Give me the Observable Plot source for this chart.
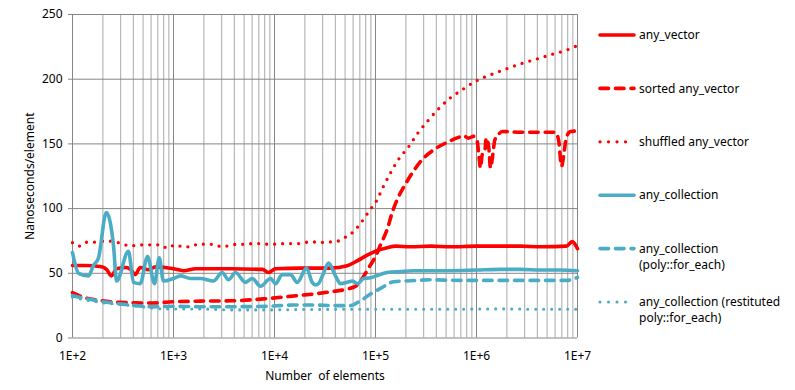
<!DOCTYPE html>
<html>
<head>
<meta charset="utf-8">
<script src="https://cdn.jsdelivr.net/npm/d3@7"></script>
<script src="https://cdn.jsdelivr.net/npm/@observablehq/plot@0.6"></script>
<style>
  html, body { margin: 0; padding: 0; background: #fff; }
  #chart { width: 795px; height: 390px; position: relative; }
  svg text { white-space: pre; }
</style>
</head>
<body>
<div id="chart"></div>
<script>
// ---------- data ----------
const xTicks = [1e2, 1e3, 1e4, 1e5, 1e6, 1e7];
const xTickLabels = ["1E+2", "1E+3", "1E+4", "1E+5", "1E+6", "1E+7"];
const yTicks = [0, 50, 100, 150, 200, 250];
const xLabel = "Number  of elements";
const yLabel = "Nanoseconds/element";

const seriesNames = [
  "any_vector",
  "sorted any_vector",
  "shuffled any_vector",
  "any_collection",
  "any_collection (poly::for_each)",
  "any_collection (restituted poly::for_each)"
];
const legendLines = [
  ["any_vector"],
  ["sorted any_vector"],
  ["shuffled any_vector"],
  ["any_collection"],
  ["any_collection", "(poly::for_each)"],
  ["any_collection (restituted", "poly::for_each)"]
];

const anyVectorN = [100, 134, 194, 217, 243, 273, 342, 375, 418, 468, 566, 663, 833, 1000, 1256, 1651, 3668, 7606, 8722, 10230, 18090, 35850, 52460, 65900, 82770, 101600, 130600, 157800, 222100, 350500, 552900, 1e6, 1.728e6, 2.727e6, 4.302e6, 7.782e6, 8.861e6, 1e7];
const anyVectorNs = [56, 56, 55, 53, 48, 53.5, 54.5, 53, 49, 54.5, 52.7, 55, 54.5, 53.5, 52, 53.5, 53.5, 53, 50.6, 53.5, 54, 54, 55.8, 59.6, 64, 67.3, 69.8, 71, 70.5, 71, 70.5, 71, 71, 71, 70.5, 71, 74.5, 69];

const sortedN = [100, 134, 189, 299, 592, 1000, 1850, 3928, 8525, 18090, 24330, 38390, 52460, 63390, 71050, 79620, 89230, 101600, 112100, 130600, 146400, 164000, 198200, 230900, 290000, 377800, 493300, 663400, 743500, 833200, 934000, 1.016e6, 1.054e6, 1.095e6, 1.139e6, 1.208e6, 1.247e6, 1.324e6, 1.376e6, 1.45e6, 1.518e6, 1.603e6, 1.797e6, 2.727e6, 4.302e6, 6.056e6, 6.53e6, 6.943e6, 7.317e6, 7.728e6, 8.525e6, 1e7];
const sortedNs = [35, 31, 29, 27.5, 27, 28, 28.5, 28.8, 30.5, 33, 34, 36, 37.8, 40, 44, 50, 56.5, 64, 72, 84, 97, 107, 119, 127.5, 137.8, 145.5, 150.6, 155, 156.3, 154.5, 155.8, 152, 141.7, 131.4, 141.7, 144, 154.5, 146.8, 131.4, 141.7, 153, 155.8, 159.6, 159, 159, 159, 152, 132.7, 141.7, 154.5, 159.6, 160];

const shuffledN = [100, 117, 138, 161, 217, 306, 373, 430, 525, 739, 872, 1039, 1256, 1497, 1768, 2075, 2489, 3035, 3668, 4273, 5163, 6196, 7268, 8783, 10630, 12850, 15530, 18090, 21710, 26470, 30770, 37260, 43020, 52460, 59200, 67870, 79620, 91290, 102300, 119200, 140800, 170100, 213600, 262300, 329500, 417700, 544000, 721800, 1e6, 1.408e6, 1.982e6, 2.771e6, 3.926e6, 5.491e6, 7.782e6, 1e7];
const shuffledNs = [73.7, 71, 74, 74, 75, 73, 71, 71.7, 72, 72, 69.4, 72, 70.4, 70.6, 72.8, 72.4, 72.4, 70.4, 71.7, 72.4, 72.4, 73, 73, 72.4, 72.6, 73, 73, 73, 74.2, 74.2, 73.8, 74.4, 75, 78.8, 81.5, 86.5, 94, 100.5, 106, 116.8, 127.6, 138.3, 148, 158.3, 167.8, 176.8, 185.2, 191.8, 198.8, 203.7, 208, 212, 215.5, 219, 222.5, 226];

const collectionN = [100, 115, 144, 161, 181, 216, 255, 273, 358, 402, 468, 553, 649, 722, 796, 1000, 1173, 1473, 1850, 2489, 3035, 3505, 4111, 5163, 6014, 7268, 9129, 10230, 11920, 14400, 16790, 20750, 23620, 25460, 27270, 30560, 34250, 40180, 45030, 52460, 59200, 66340, 76060, 89230, 101600, 130600, 176800, 237800, 350500, 552900, 1e6, 1.728e6, 2.727e6, 4.302e6, 6.787e6, 1e7];
const collectionNs = [66, 50, 48, 56, 62, 97, 71, 44, 67, 43, 42, 63, 42, 62, 44, 46, 48, 46, 46, 44, 50.6, 45, 50.6, 43, 46, 40, 46, 42, 49, 49, 43, 54, 43, 41, 42, 50, 58, 48, 42, 43, 44, 42, 46, 46.5, 48, 50.6, 51.4, 52, 52, 52, 52.5, 53, 53, 52.5, 52.5, 52];

const polyN = [100, 189, 348, 592, 1000, 1850, 3928, 8525, 15430, 24330, 38390, 56560, 71050, 89230, 112100, 151800, 222100, 350500, 694300, 1.728e6, 4.302e6, 7.782e6, 1e7];
const polyNs = [32.7, 28.3, 25.8, 24.2, 24.5, 24.2, 24.2, 24.5, 25.5, 25.5, 25, 25, 28.8, 34, 38.3, 43.5, 44.2, 45, 44.5, 44.5, 44.5, 44.5, 46.8];

const restitutedN = [100, 189, 402, 872, 1850, 3928, 8525, 18090, 102300, 552900, 1.728e6, 4.302e6, 1e7];
const restitutedNs = [31.4, 27.5, 25, 22.4, 22.4, 21.7, 21.7, 22, 22.2, 22.2, 22.5, 22.2, 22.2];

// ---------- styles ----------
const RED = "#ff0000", BLUE = "#4bacc6";
const styles = [
  {stroke: RED, width: 3.6, dash: null},
  {stroke: RED, width: 3.6, dash: "8.5 7"},
  {stroke: RED, width: 3.3, dash: "0 8"},
  {stroke: BLUE, width: 3.6, dash: null},
  {stroke: BLUE, width: 3.6, dash: "8.5 7"},
  {stroke: BLUE, width: 3.1, dash: "0 8"}
];
const seriesData = [
  [anyVectorN, anyVectorNs],
  [sortedN, sortedNs],
  [shuffledN, shuffledNs],
  [collectionN, collectionNs],
  [polyN, polyNs],
  [restitutedN, restitutedNs]
];
const rowsFor = (i) => seriesData[i][0].map((n, j) => ({series: seriesNames[i], n, v: seriesData[i][1][j]}));

const minorTicks = d3.scaleLog().domain([1e2, 1e7]).ticks().filter(t => !xTicks.includes(t));

const W = 795, H = 390;
const FONT = "Noto Sans";

const lineMarks = seriesNames.map((name, i) => Plot.line(rowsFor(i), {
  x: "n", y: "v",
  stroke: styles[i].stroke,
  strokeWidth: styles[i].width,
  strokeDasharray: styles[i].dash,
  strokeLinecap: "round",
  strokeLinejoin: "round",
  curve: "monotone-x"
}));

const chart = Plot.plot({
  width: W,
  height: H,
  marginLeft: 72,
  marginRight: 218,
  marginTop: 14,
  marginBottom: 52.5,
  style: {fontFamily: FONT, fontSize: "12px", color: "#000", background: "#fff"},
  x: {type: "log", domain: [1e2, 1e7]},
  y: {domain: [0, 250]},
  marks: [
    Plot.ruleX(minorTicks, {stroke: "#a9a9a9", strokeWidth: 1}),
    Plot.ruleX(xTicks, {stroke: "#868686", strokeWidth: 1}),
    Plot.ruleY(yTicks, {stroke: "#868686", strokeWidth: 1}),
    Plot.axisY({ticks: yTicks, tickSize: 4, tickPadding: 6, label: null, stroke: "#868686", fill: "#000", fontSize: 12}),
    Plot.axisX({ticks: xTicks, tickFormat: (d) => xTickLabels[xTicks.indexOf(d)], tickSize: 0, tickPadding: 13, label: null, fill: "#000", fontSize: 12}),
    ...lineMarks,
    Plot.text([xLabel], {frameAnchor: "bottom", dy: 38, textAnchor: "middle", lineAnchor: "middle", fontSize: 12, fill: "#000"}),
    Plot.text([yLabel], {frameAnchor: "left", dx: -42, rotate: -90, textAnchor: "middle", lineAnchor: "middle", fontSize: 12, fill: "#000"})
  ]
});

// ---------- legend ----------
const svg = d3.select(chart);
const lg = svg.append("g")
  .attr("font-family", FONT)
  .attr("font-size", 12)
  .attr("text-anchor", "start");
legendLines.forEach((lines, i) => {
  const y = 35 + i * 53.4;
  const st = styles[i];
  lg.append("line")
    .attr("x1", 600).attr("x2", 634)
    .attr("y1", y).attr("y2", y)
    .attr("stroke", st.stroke)
    .attr("stroke-width", st.width)
    .attr("stroke-linecap", "round")
    .attr("stroke-dasharray", st.dash ? (st.dash === "0 8" ? "0 8.5" : st.dash) : null);
  lines.forEach((t, k) => {
    lg.append("text")
      .attr("x", 639).attr("y", y + k * 16)
      .attr("dy", "0.35em")
      .attr("text-anchor", "start")
      .attr("fill", "#000")
      .text(t);
  });
});

document.getElementById("chart").appendChild(chart);
</script>
</body>
</html>
